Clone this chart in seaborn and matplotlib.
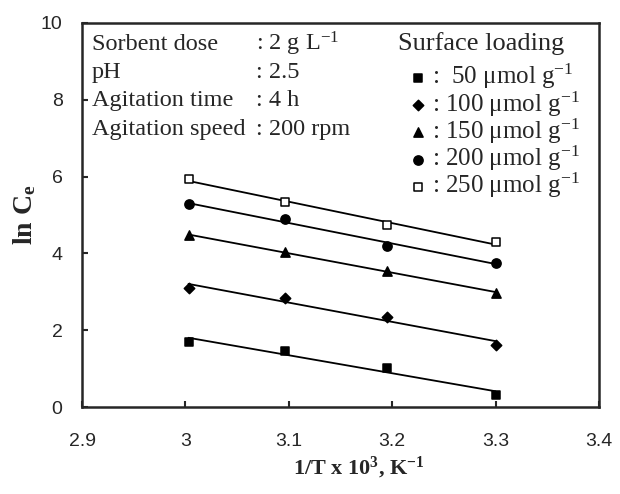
import numpy as np
import pandas as pd
import matplotlib
matplotlib.use("Agg")
import matplotlib.pyplot as plt
import seaborn as sns

# ---- data ----
inv_T = [3.003, 3.096, 3.195, 3.300]
ln_ce_50 = [1.70, 1.46, 1.01, 0.31]
ln_ce_100 = [3.09, 2.85, 2.35, 1.61]
ln_ce_150 = [4.48, 4.03, 3.54, 2.98]
ln_ce_200 = [5.29, 4.89, 4.19, 3.76]
ln_ce_250 = [5.94, 5.33, 4.74, 4.29]
loadings = ["50", "100", "150", "200", "250"]
x_ticks = [2.9, 3.0, 3.1, 3.2, 3.3, 3.4]
x_tick_labels = ["2.9", "3", "3.1", "3.2", "3.3", "3.4"]
y_ticks = [0, 2, 4, 6, 8, 10]
cond_names = ["Sorbent dose", "pH", "Agitation time", "Agitation speed"]
cond_values = [": 2 g L$^{-1}$", ": 2.5", ": 4 h", ": 200 rpm"]
legend_title = "Surface loading"

series = [ln_ce_50, ln_ce_100, ln_ce_150, ln_ce_200, ln_ce_250]

sns.set_style("ticks")
plt.rcParams["font.family"] = ["Liberation Sans", "DejaVu Sans"]
plt.rcParams["mathtext.fontset"] = "custom"
plt.rcParams["mathtext.rm"] = "Liberation Serif"
plt.rcParams["mathtext.it"] = "Liberation Serif:italic"
plt.rcParams["mathtext.bf"] = "Liberation Serif:bold"

fig = plt.figure(figsize=(6.2, 4.94), dpi=100)
ax = fig.add_axes([82 / 620, 1 - 407 / 494, 517 / 620, 384 / 494])

styles = [
    dict(marker="s", s=40, facecolor="black"),
    dict(marker="D", s=28, facecolor="black"),
    dict(marker="^", s=44, facecolor="black"),
    dict(marker="o", s=44, facecolor="black"),
    dict(marker="s", s=40, facecolor="white"),
]

handles = []
for vals, st in zip(series, styles):
    df = pd.DataFrame({"x": inv_T, "y": vals})
    sns.regplot(data=df, x="x", y="y", ax=ax, ci=None, truncate=True,
                marker=st["marker"],
                scatter_kws=dict(s=st["s"], facecolors=st["facecolor"],
                                 edgecolors="black", linewidths=1.1, zorder=3,
                                 alpha=1.0),
                line_kws=dict(color="black", lw=1.3, zorder=2))
    handles.append(ax.collections[-1])

ax.set_xlim(2.9, 3.4)
ax.set_ylim(0, 10)
ax.set_xticks(x_ticks)
ax.set_xticklabels(x_tick_labels)
ax.set_yticks(y_ticks)
ax.tick_params(direction="in", length=4, width=1.5, labelsize=14)
ax.tick_params(axis="x", pad=19)
ax.tick_params(axis="y", pad=14)
for sp in ax.spines.values():
    sp.set_visible(True)
    sp.set_linewidth(1.8)

ax.set_xlabel("1/T x 10$^\\mathbf{3}$, K$^\\mathbf{-1}$", family="Liberation Serif",
              fontweight="bold", fontsize=16)
ax.set_ylabel("ln C$_\\mathbf{e}$", family="Liberation Serif",
              fontweight="bold", fontsize=20)
ax.xaxis.set_label_coords(0.535, -0.125)
ax.yaxis.set_label_coords(-0.085, 0.5)

row_y = [0.945, 0.870, 0.797, 0.722]
for name, val, yy in zip(cond_names, cond_values, row_y):
    ax.text(0.019, yy, name, transform=ax.transAxes, family="Liberation Serif",
            fontsize=17.5, va="center", ha="left")
    ax.text(0.336, yy, val, transform=ax.transAxes, family="Liberation Serif",
            fontsize=17.5, va="center", ha="left")

ax.text(0.611, 0.947, legend_title, transform=ax.transAxes,
        family="Liberation Serif", fontsize=19, va="center", ha="left")

labels = [":  " + l + " \u03bcmol g$^{-1}$" if l == "50" else ": " + l + " \u03bcmol g$^{-1}$"
          for l in loadings]
leg = ax.legend(handles, labels, loc="upper right",
                bbox_to_anchor=(0.968, 0.905), frameon=False,
                prop=dict(family="Liberation Serif", size=18),
                handletextpad=0.1, labelspacing=-0.08, handlelength=0.9,
                borderaxespad=0.0, borderpad=0.1, markerscale=1.0)

fig.savefig("out.png", dpi=100)
